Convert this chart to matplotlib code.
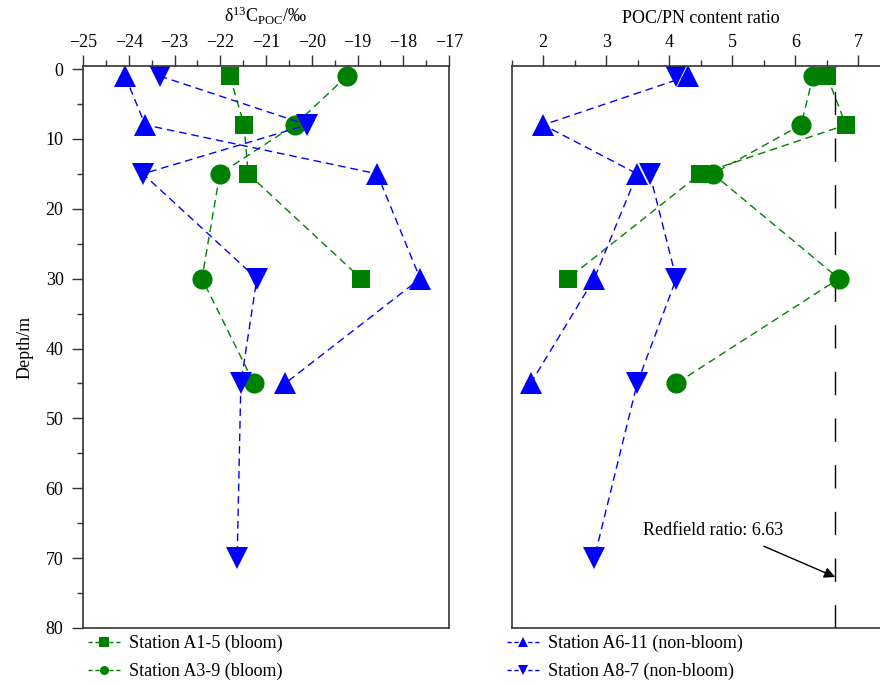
import matplotlib
matplotlib.use("Agg")
import matplotlib.pyplot as plt
from matplotlib.ticker import MultipleLocator
from matplotlib.lines import Line2D
import numpy as np

plt.rcParams["font.family"] = ["Liberation Serif", "DejaVu Serif"]
plt.rcParams["mathtext.fontset"] = "custom"
plt.rcParams["mathtext.rm"] = "Liberation Serif"
plt.rcParams["mathtext.it"] = "Liberation Serif:italic"
plt.rcParams["font.size"] = 13

# глубины отбора, м
depth = [1, 8, 15, 30, 45, 70]

# δ13C POC, ‰
d13c_a1_5 = [-21.79, -21.48, -21.39, -18.92, np.nan, np.nan]
d13c_a3_9 = [-19.23, -20.37, -22.01, -22.40, -21.26, np.nan]
d13c_a6_11 = [-24.08, -23.64, -18.57, -17.63, -20.58, np.nan]
d13c_a8_7 = [-23.32, -20.10, -23.69, -21.20, -21.55, -21.63]

# POC/PN
cn_a1_5 = [6.50, 6.80, 4.49, 2.39, np.nan, np.nan]
cn_a3_9 = [6.28, 6.09, 4.69, 6.69, 4.11, np.nan]
cn_a6_11 = [4.30, 2.00, 3.49, 2.81, 1.80, np.nan]
cn_a8_7 = [4.11, np.nan, 3.69, 4.11, 3.49, 2.81]

REDFIELD = 6.63

GREEN = "#008000"
BLUE = "#0000ff"
STATIONS = [
    ("Station A3-9 (bloom)", d13c_a3_9, cn_a3_9, GREEN, "o", 14.5),
    ("Station A1-5 (bloom)", d13c_a1_5, cn_a1_5, GREEN, "s", 13),
    ("Station A6-11 (non-bloom)", d13c_a6_11, cn_a6_11, BLUE, "^", 16.5),
    ("Station A8-7 (non-bloom)", d13c_a8_7, cn_a8_7, BLUE, "v", 16.5),
]
DASH = (0, (5.5, 3.5))
SPINE = "#333333"

W, H = 880, 686
fig = plt.figure(figsize=(W / 100, H / 100), dpi=100)


def px_box(x0, x1, y0, y1):
    return [x0 / W, 1 - y1 / H, (x1 - x0) / W, (y1 - y0) / H]


ax1 = fig.add_axes(px_box(83, 449, 66, 628))
ax2 = fig.add_axes(px_box(511.7, 890, 66, 628))

for label, d13, cn, color, marker, ms in STATIONS:
    kw = dict(color=color, linestyle=DASH, linewidth=1.0, marker=marker,
              markersize=ms, markeredgewidth=0)
    ax1.plot(d13, depth, **kw)
    ax2.plot(cn, depth, **kw)

for ax in (ax1, ax2):
    ax.set_ylim(80, -0.43)
    ax.xaxis.tick_top()
    ax.xaxis.set_label_position("top")
    ax.xaxis.set_minor_locator(MultipleLocator(0.5))
    ax.tick_params(axis="x", which="major", direction="out", length=8, width=1,
                   pad=3, color=SPINE, labelsize=13)
    ax.tick_params(axis="x", which="minor", direction="out", length=4, width=1,
                   color=SPINE)
    for s in ax.spines.values():
        s.set_color(SPINE)
        s.set_linewidth(1.2)

ax1.set_xlim(-25, -17)
ax1.xaxis.set_major_locator(MultipleLocator(1))
ax1.yaxis.set_major_locator(MultipleLocator(10))
ax1.yaxis.set_minor_locator(MultipleLocator(5))
ax1.tick_params(axis="y", which="major", direction="out", length=8, width=1,
                pad=6, color=SPINE, labelsize=13)
ax1.tick_params(axis="y", which="minor", direction="out", length=4, width=1,
                color=SPINE)
ax1.set_xlabel(r"δ$^{13}$C$_{\rm POC}$/‰", labelpad=8)
ax1.set_ylabel("Depth/m", labelpad=9)

ax2.set_xlim(1.5, 7.5)
ax2.xaxis.set_major_locator(MultipleLocator(1))
ax2.tick_params(axis="y", which="both", left=False, labelleft=False)
ax2.set_xlabel("POC/PN content ratio", labelpad=8)

# линия Редфилда и подпись со стрелкой
ax2.axvline(REDFIELD, color="black", linewidth=1.0, linestyle=(0, (16.8, 16.8)),
            zorder=1)
ax2.text(3.58, 66.1, f"Redfield ratio: {REDFIELD}", ha="left", va="center",
         fontsize=13)
ax2.annotate("", xy=(REDFIELD, 72.7), xytext=(5.5, 68.3),
             arrowprops=dict(arrowstyle="-|>", color="black", linewidth=1.0,
                             mutation_scale=16, shrinkA=0, shrinkB=0))

# легенды под панелями
def handle(color, marker):
    return Line2D([], [], color=color, linestyle=(0, (3, 2)), linewidth=1.0,
                  marker=marker, markersize=6.5, markeredgewidth=0)


leg_kw = dict(frameon=False, fontsize=13, handlelength=1.8, handletextpad=0.45,
              labelspacing=0.6, borderpad=0, borderaxespad=0, numpoints=1,
              loc="upper left")
fig.legend([handle(GREEN, "s"), handle(GREEN, "o")],
           ["Station A1-5 (bloom)", "Station A3-9 (bloom)"],
           bbox_to_anchor=(88 / W, 1 - 635 / H), **leg_kw)
fig.legend([handle(BLUE, "^"), handle(BLUE, "v")],
           ["Station A6-11 (non-bloom)", "Station A8-7 (non-bloom)"],
           bbox_to_anchor=(507 / W, 1 - 635 / H), **leg_kw)

fig.savefig("out.png", dpi=100)
